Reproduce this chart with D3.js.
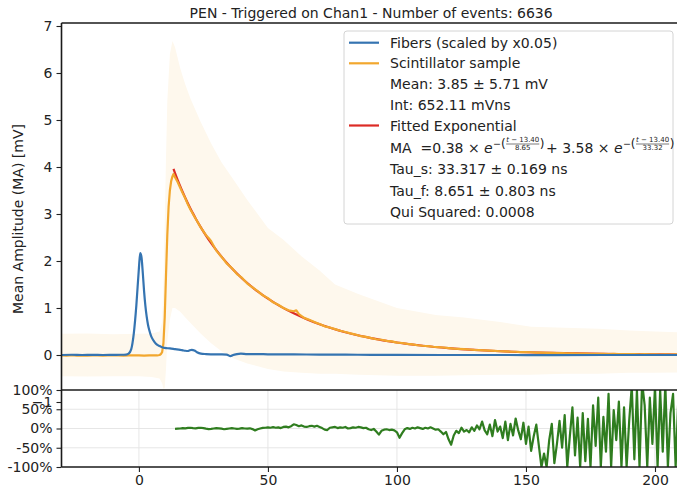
<!DOCTYPE html>
<html><head><meta charset="utf-8">
<script src="https://cdn.jsdelivr.net/npm/d3@7"></script>
<style>
body{margin:0;background:#fff}
svg{display:block}
text{font-family:"DejaVu Sans",sans-serif;fill:#222;white-space:pre}
</style>
</head><body>
<svg id="c" width="677" height="487"></svg>
<script>
// ---------------- DATA ----------------
const title = "PEN - Triggered on Chan1 - Number of events: 6636";
const yLabel = "Mean Amplitude (MA) [mV]";
const mainYTicks = [-1, 0, 1, 2, 3, 4, 5, 6, 7];
const xTicks = [0, 50, 100, 150, 200];
const resYTicks = [-100, -50, 0, 50, 100];

// Fibers (scaled by x0.05)  - time [ns], amplitude [mV]
const fiberT = [-30,-26,-22,-18,-14,-10,-7,-5,-4,-3,-2,-1,0,0.5,1,1.5,2,2.5,3,3.5,4,4.5,5,6,7,8,9,10,12,14,16,17,18,19,19.5,20.5,21.5,22.5,24,26,28,31,34,35.5,36.5,38,39.5,42,46,50,60,70,80,90,100,120,140,160,180,200,210];
const fiberV = [0.0,0.005,0.0,0.004,0.0,0.003,0.005,0.01,0.03,0.12,0.45,1.05,1.85,2.17,2.08,1.75,1.36,1.05,0.82,0.65,0.53,0.44,0.37,0.28,0.22,0.19,0.165,0.15,0.14,0.125,0.11,0.1,0.09,0.085,0.095,0.11,0.095,0.06,0.03,0.02,0.015,0.012,0.01,-0.025,0.0,0.02,0.03,0.02,0.02,0.015,0.012,0.01,0.006,0.004,0.002,0.0,0.0,-0.002,0.0,0.0,0.0];

// Scintillator sample (mean)
const scintT = [-30,-28,-26,-24,-22,-20,-18,-16,-14,-12,-10,-8,-6,-4,-2,0,2,4,6,7,8,8.5,9,9.5,10,10.5,11,11.5,12,12.5,13,13.4,14,15,16,17,18,19,20,22,24,26,27,28,30,32,34,36,38,40,42,44,46,48,50,52,54,56,58,60,61,62,64,66,68,70,72,74,76,78,80,82,84,86,88,90,92,94,96,98,100,102,104,106,108,110,112,114,116,118,120,122,124,126,128,130,132,134,136,138,140,142,144,146,148,150,152,154,156,158,160,162,164,166,168,170,172,174,176,178,180,182,184,186,188,190,192,194,196,198,200,202,204,206,208,210];
const scintV = [-0.01,-0.015,-0.005,-0.012,-0.008,-0.015,-0.01,-0.006,-0.012,-0.01,-0.004,-0.01,-0.012,-0.008,-0.01,-0.006,-0.012,-0.008,-0.005,-0.01,0.0,0.02,0.06,0.25,0.8,1.7,2.55,3.15,3.5,3.7,3.8,3.85,3.78,3.68,3.56,3.44,3.33,3.2,3.09,2.9,2.71,2.55,2.49,2.42,2.22,2.09,1.95,1.85,1.72,1.64,1.52,1.44,1.36,1.27,1.21,1.12,1.07,1.0,0.95,0.93,0.95,0.87,0.79,0.75,0.7,0.66,0.61,0.585,0.55,0.515,0.49,0.46,0.435,0.4,0.385,0.36,0.335,0.325,0.3,0.29,0.262,0.255,0.236,0.226,0.208,0.197,0.19,0.175,0.166,0.16,0.148,0.135,0.132,0.124,0.117,0.108,0.103,0.097,0.091,0.087,0.08,0.079,0.07,0.069,0.062,0.06,0.058,0.051,0.052,0.046,0.045,0.04,0.042,0.035,0.037,0.031,0.032,0.028,0.027,0.024,0.026,0.021,0.024,0.019,0.021,0.017,0.018,0.014,0.017,0.013,0.014,0.011,0.014,0.01,0.012,0.009];

// Error band of the scintillator sample (mean - std, mean + std)
const bandT  = [-30,-20,-10,0,5,8,9,9.5,10,10.5,11,12,13,14,16,18,20,24,28,32,37,42,50,56,63,70,76,85,100,115,126,140,152,165,178,190,200,210];
const bandHi = [0.45,0.46,0.44,0.45,0.46,0.5,0.7,1.5,2.8,4.2,5.4,6.4,6.68,6.55,6.1,5.75,5.45,4.95,4.5,4.1,3.7,3.3,2.7,2.45,2.1,1.8,1.5,1.3,1.0,0.85,0.8,0.7,0.6,0.58,0.56,0.52,0.5,0.48];
const bandLo = [-0.45,-0.46,-0.45,-0.45,-0.47,-0.5,-0.6,-0.72,-0.7,-0.3,0.3,0.75,1.0,1.0,0.92,0.8,0.68,0.45,0.25,0.08,-0.08,-0.18,-0.3,-0.35,-0.38,-0.4,-0.4,-0.42,-0.44,-0.44,-0.43,-0.42,-0.42,-0.4,-0.4,-0.38,-0.38,-0.37];

// Fitted exponential
const fitT = [13.4,14,15,16,17,18,19,20,21,22,24,26,28,30,32,34,36,38,40,42,44,46,48,50,55,60,65,70,75,80,90,100,110,120,130,140,150,160,170,180,190,200,210];
const fitV = [3.96,3.87,3.728,3.593,3.464,3.342,3.225,3.114,3.008,2.906,2.716,2.541,2.380,2.231,2.093,1.964,1.845,1.733,1.629,1.532,1.440,1.354,1.274,1.199,1.030,0.886,0.762,0.655,0.564,0.485,0.359,0.266,0.197,0.146,0.108,0.080,0.059,0.044,0.033,0.024,0.018,0.013,0.010];

// Residuals [%], one sample per ns starting at 14 ns
const residualStart = 14;
const residualV = [
 -1,-0.5,0,1,0.5,1.5,2,1,0.5,1.5,
 2,1,-0.5,-1.5,-1,0,1,0.5,-0.5,-2,
 -1,0,1,0,-1,-0.5,1,0,-0.5,0.5,
 -1.5,-5,-2,0,1.5,2,3,2,3.5,2,
 3,1,4,5,3,6,11,9,6,8,
 5,4,6,7,5,7,4,1,-3,-4,
 2,3,4,1,3,2,4,0,1,3,
 2,4,3,1,2,-2,-4,-1,-8,-16,
 -6,-3,-2,-4,-3,-5,-10,-24,-12,-2,
 1,-1,2,0,3,1,-1,2,0,3,
 0,-3,-2,-8,-15,-9,-28,-42,-18,-6,
 -12,2,-8,-4,-10,3,-6,8,-2,18,
 -5,-15,10,-20,22,-8,5,-25,18,-30,
 12,-18,26,-5,-28,15,-40,5,-58,-20,
 10,-45,-100,-65,-100,-30,12,-90,-40,20,
 -50,35,-100,-20,55,-70,28,-100,40,-85,
 25,-100,60,-45,80,-100,30,-60,90,-100,
 48,-30,70,-100,55,-100,20,110,-80,100,
 -100,120,60,-100,80,-40,110,-100,100,-60,
 115,-100,40,90,-100,70];

const legendLines = [
  {label:"Fibers (scaled by x0.05)", color:"#3574b1"},
  {label:"Scintillator sample", color:"#f2a72e"},
  {label:"Mean: 3.85 ± 5.71 mV", color:null},
  {label:"Int: 652.11 mVns", color:null},
  {label:"Fitted Exponential", color:"#dc2b25"},
  {label:"FORMULA", color:null},
  {label:"Tau_s: 33.317 ± 0.169 ns", color:null},
  {label:"Tau_f: 8.651 ± 0.803 ns", color:null},
  {label:"Qui Squared: 0.0008", color:null}
];

// ---------------- DRAWING ----------------
const svg = d3.select("#c");
const L = 61.5, R = 680.8, T = 23, MB = 390, B = 467;
const x = d3.scaleLinear().domain([-30, 210]).range([L, R]);
const yM = d3.scaleLinear().domain([0, 7]).range([355, 26]);
const yR = d3.scaleLinear().domain([-100, 100]).range([B, MB]);

const defs = svg.append("defs");
defs.append("clipPath").attr("id","clipM").append("rect").attr("x",L).attr("y",T).attr("width",R-L).attr("height",MB-T);
defs.append("clipPath").attr("id","clipR").append("rect").attr("x",L).attr("y",MB).attr("width",R-L).attr("height",B-MB);

// main plot
const gm = svg.append("g").attr("clip-path","url(#clipM)");
const band = bandT.map((t,i)=>({t, lo:bandLo[i], hi:bandHi[i]}));
gm.append("path").datum(band)
  .attr("d", d3.area().x(d=>x(d.t)).y0(d=>yM(d.lo)).y1(d=>yM(d.hi)))
  .attr("fill","#fef8ed");

gm.append("path").datum(fitT.map((t,i)=>[t,fitV[i]]))
  .attr("d", d3.line().x(d=>x(d[0])).y(d=>yM(d[1])).curve(d3.curveMonotoneX))
  .attr("fill","none").attr("stroke","#dc2b25").attr("stroke-width",2.2);
gm.append("path").datum(scintT.map((t,i)=>[t,scintV[i]]))
  .attr("d", d3.line().x(d=>x(d[0])).y(d=>yM(d[1])))
  .attr("fill","none").attr("stroke","#f2a72e").attr("stroke-width",2.2).attr("stroke-linejoin","round");
gm.append("path").datum(fiberT.map((t,i)=>[t,fiberV[i]]))
  .attr("d", d3.line().x(d=>x(d[0])).y(d=>yM(d[1])).curve(d3.curveMonotoneX))
  .attr("fill","none").attr("stroke","#3574b1").attr("stroke-width",2.2);

// main y axis
const ax = svg.append("g").attr("transform",`translate(${L},0)`)
  .call(d3.axisLeft(yM).tickValues(mainYTicks).tickSize(5).tickPadding(4)
    .tickFormat(d => d < 0 ? "\u2212" + Math.abs(d) : String(d)));
ax.select(".domain").remove();
ax.selectAll("text").attr("font-size",14).attr("font-family","DejaVu Sans").attr("fill","#222");
ax.selectAll("line").attr("stroke","#222").attr("stroke-width",1.1);

// residual panel background
svg.append("rect").attr("x",L).attr("y",MB).attr("width",R-L).attr("height",B-MB).attr("fill","#fff");
const gr = svg.append("g");
gr.selectAll("line.gx").data(xTicks).join("line").attr("class","gx")
  .attr("x1",d=>x(d)).attr("x2",d=>x(d)).attr("y1",MB).attr("y2",B)
  .attr("stroke","#e3e3e3").attr("stroke-width",0.9);
gr.selectAll("line.gy").data(resYTicks.filter(d=>Math.abs(d)<100)).join("line").attr("class","gy")
  .attr("x1",L).attr("x2",R).attr("y1",d=>yR(d)).attr("y2",d=>yR(d))
  .attr("stroke","#e3e3e3").attr("stroke-width",0.9);
svg.append("g").attr("clip-path","url(#clipR)").append("path")
  .datum(residualV.map((v,i)=>[residualStart+i, v]))
  .attr("d", d3.line().x(d=>x(d[0])).y(d=>yR(d[1])))
  .attr("fill","none").attr("stroke","#2f7d1f").attr("stroke-width",2.2).attr("stroke-linejoin","round");

// residual y axis
const ar = svg.append("g").attr("transform",`translate(${L},0)`)
  .call(d3.axisLeft(yR).tickValues(resYTicks).tickSize(5).tickPadding(4).tickFormat(d=>d+"%"));
ar.select(".domain").remove();
ar.selectAll("text").attr("font-size",14).attr("font-family","DejaVu Sans").attr("fill","#222");
ar.selectAll("line").attr("stroke","#222").attr("stroke-width",1.1);

// x axis
const axx = svg.append("g").attr("transform",`translate(0,${B})`)
  .call(d3.axisBottom(x).tickValues(xTicks).tickSize(5).tickPadding(3));
axx.select(".domain").remove();
axx.selectAll("text").attr("font-size",14).attr("font-family","DejaVu Sans").attr("fill","#222");
axx.selectAll("line").attr("stroke","#222").attr("stroke-width",1.1);

// spines
const sp = svg.append("g").attr("stroke","#1a1a1a").attr("stroke-width",1.6).attr("fill","none");
sp.append("line").attr("x1",L).attr("x2",R).attr("y1",T).attr("y2",T);
sp.append("line").attr("x1",L).attr("x2",L).attr("y1",T).attr("y2",B);
sp.append("line").attr("x1",L).attr("x2",R).attr("y1",MB).attr("y2",MB);
sp.append("line").attr("x1",L).attr("x2",R).attr("y1",B).attr("y2",B);

// title and y label
svg.append("text").attr("x",(L+R)/2).attr("y",18).attr("text-anchor","middle").attr("font-size",14).text(title);
svg.append("text").attr("transform","translate(23,219) rotate(-90)").attr("text-anchor","middle").attr("font-size",14).text(yLabel);

// legend
const lg = svg.append("g");
lg.append("rect").attr("x",344).attr("y",31).attr("width",329).attr("height",193).attr("rx",3)
  .attr("fill","#fff").attr("fill-opacity",0.85).attr("stroke","#d4d4d4").attr("stroke-width",1);
const rowY = [42.7, 63.3, 83.8, 104.5, 125.5, 147, 169.3, 190.5, 211.7];
legendLines.forEach((d,i)=>{
  const yc = rowY[i];
  if (d.color) lg.append("line").attr("x1",349).attr("x2",379).attr("y1",yc).attr("y2",yc)
    .attr("stroke",d.color).attr("stroke-width",2.2);
  if (d.label === "FORMULA") drawFormula(lg, 390, yc + 5.5);
  else lg.append("text").attr("x",390).attr("y",yc+5).attr("font-size",14).text(d.label);
});

function drawFormula(g, x0, yb){
  let cx = x0;
  const put = (txt, o={}) => {
    const t = g.append("text").attr("x",cx).attr("y",yb+(o.dy||0)).attr("font-size",o.fs||14).text(txt);
    if (o.it) t.attr("font-style","italic");
    cx += t.node().getComputedTextLength() + (o.gap||0);
    return t;
  };
  const frac = (num, den) => {
    const fs = 7;
    const n = g.append("text").attr("y",yb-10.5).attr("font-size",fs).attr("text-anchor","middle");
    n.append("tspan").attr("font-style","italic").text("t");
    n.append("tspan").text(" \u2212 " + num);
    const dd = g.append("text").attr("y",yb-2.5).attr("font-size",fs).attr("text-anchor","middle").text(den);
    const w = Math.max(n.node().getComputedTextLength(), dd.node().getComputedTextLength()) + 1;
    n.attr("x",cx + w/2); dd.attr("x",cx + w/2);
    g.append("line").attr("x1",cx+0.5).attr("x2",cx+w-0.5).attr("y1",yb-8.5).attr("y2",yb-8.5)
      .attr("stroke","#222").attr("stroke-width",0.6);
    cx += w;
  };
  const expo = (den) => {
    put("e", {it:true, gap:0.3});
    put("\u2212", {fs:9.5, dy:-6});
    put("(", {fs:12, dy:-5});
    frac("13.40", den);
    put(")", {fs:12, dy:-5, gap:1.5});
  };
  put("MA  =0.38 \u00d7 ");
  expo("8.65");
  put("+ 3.58 \u00d7 ");
  expo("33.32");
}
</script>
</body></html>
